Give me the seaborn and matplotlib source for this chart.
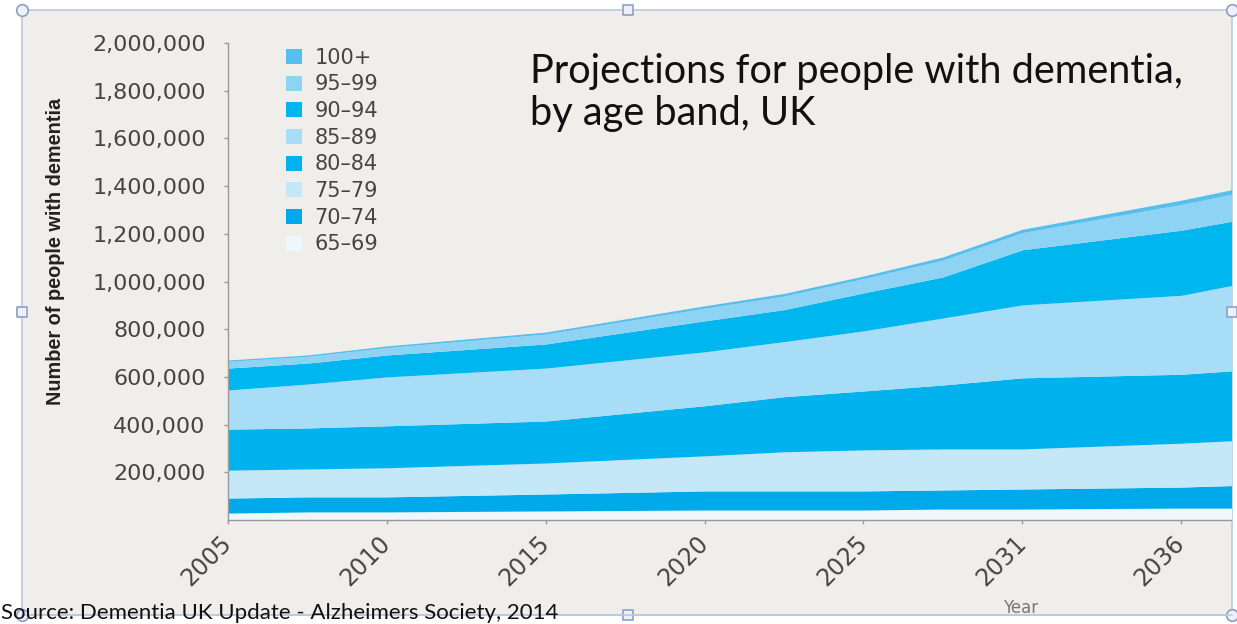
import matplotlib
matplotlib.use('Agg')
import matplotlib.pyplot as plt
import seaborn as sns
from matplotlib.patches import Rectangle
from matplotlib.ticker import FuncFormatter

# x position of each reading (one unit per step of the original axis, labels every 5)
period = [0, 2.5, 5, 10, 15, 17.5, 20, 22.5, 25, 30, 32]
tick_pos = [0, 5, 10, 15, 20, 25, 30]
tick_years = ['2005', '2010', '2015', '2020', '2025', '2031', '2036']

age_bands = ['65–69', '70–74', '75–79', '80–84', '85–89', '90–94', '95–99', '100+']
age_65_69 = [29000, 34000, 34000, 38000, 42000, 42000, 42000, 46000, 46000, 50000, 50000]
age_70_74 = [63000, 63000, 63000, 71000, 80000, 80000, 80000, 80000, 84000, 88000, 96000]
age_75_79 = [117000, 117000, 122000, 130000, 147000, 164000, 172000, 172000, 168000, 184000, 189000]
age_80_84 = [172000, 172000, 176000, 176000, 210000, 231000, 247000, 268000, 298000, 289000, 294000]
age_85_89 = [164000, 184000, 205000, 222000, 226000, 231000, 252000, 281000, 306000, 331000, 365000]
age_90_94 = [92000, 88000, 92000, 101000, 130000, 134000, 159000, 172000, 231000, 273000, 268000]
age_95_99 = [28000, 28000, 31000, 42000, 53000, 57000, 60000, 71000, 72000, 108000, 115000]
age_100_plus = [6000, 6000, 7000, 8000, 10000, 11000, 11000, 13000, 14000, 18000, 19000]

band_colors = ['#eef7fc', '#00aaea', '#c4e8f8', '#00b2ed', '#a8ddf7', '#00b6ef', '#8fd3f4', '#55bfee']

sns.set_theme(style='white')
plt.rcParams['font.family'] = ['DejaVu Sans']

W, H = 1237, 624
fig = plt.figure(figsize=(W / 100, H / 100), dpi=100, facecolor='white')

# grey panel with the selection frame round it
bg = fig.add_axes([0, 0, 1, 1], zorder=0)
bg.set_xlim(0, W)
bg.set_ylim(H, 0)
bg.axis('off')
bg.add_patch(Rectangle((22, 10), 1210, 605, facecolor='#f0eeeb', edgecolor='#b9c9e0', lw=1.2))

ax = fig.add_axes([228 / W, 1 - 520 / H, (1231 - 228) / W, (520 - 43) / H], zorder=1)
ax.set_facecolor('#f0eeeb')

ax.stackplot(period, age_65_69, age_70_74, age_75_79, age_80_84, age_85_89,
             age_90_94, age_95_99, age_100_plus,
             colors=band_colors, labels=age_bands, linewidth=0)

ax.set_xlim(0, 31.57)
ax.set_ylim(0, 2000000)
ax.set_yticks(range(200000, 2000001, 200000))
ax.yaxis.set_major_formatter(FuncFormatter(lambda v, p: f'{int(v):,}'))
ax.set_xticks(tick_pos)
ax.set_xticklabels(tick_years, rotation=45, ha='right', va='center', rotation_mode='anchor')

sns.despine(ax=ax)
for s in ['left', 'bottom']:
    ax.spines[s].set_color('#9a9a9a')
    ax.spines[s].set_linewidth(1)
ax.tick_params(axis='y', which='major', left=True, length=3, width=1, color='#9a9a9a',
               pad=13, labelsize=16, labelcolor='#454545')
ax.tick_params(axis='x', which='major', bottom=True, length=3, width=1, color='#9a9a9a',
               pad=11, labelsize=17, labelcolor='#454545')

ax.set_ylabel('Number of people with dementia', fontsize=14.3, fontweight='bold',
              family=['Liberation Sans', 'DejaVu Sans'], color='#222222')
ax.yaxis.set_label_coords(-0.163, 0.562)
ax.set_xlabel('Year', fontsize=12, color='#777777')
ax.xaxis.set_label_coords(0.79, -0.165)

h, l = ax.get_legend_handles_labels()
ax.legend(h[::-1], l[::-1], loc='upper left', bbox_to_anchor=(0.058, 0.99),
          frameon=False, fontsize=15, handlelength=0.75, handleheight=0.75,
          handletextpad=0.6, labelspacing=0.32, borderpad=0, borderaxespad=0,
          labelcolor='#454545')

fig.text(530 / W, 1 - 53 / H, 'Projections for people with dementia,\nby age band, UK',
         ha='left', va='top', fontsize=28.6, family=['Lato', 'DejaVu Sans'], color='#111111',
         linespacing=1.15)

# white strip under the frame, selection handles and the source line
top = fig.add_axes([0, 0, 1, 1], zorder=5)
top.set_xlim(0, W)
top.set_ylim(H, 0)
top.axis('off')
top.patch.set_alpha(0)
top.add_patch(Rectangle((0, 615.5), W, 20, facecolor='white', edgecolor='none'))
top.plot([22, 1232], [615, 615], color='#b9c9e0', lw=1.2)
top.scatter([22, 1232, 22, 1232], [10, 10, 615, 615], s=70, marker='o',
            facecolor='#eef1f8', edgecolor='#8d9dc6', lw=1.2, clip_on=False)
top.scatter([628, 22, 1232, 628], [10, 312, 312, 615], s=55, marker='s',
            facecolor='#eef1f8', edgecolor='#8d9dc6', lw=1.2, clip_on=False)
fig.text(1 / W, 1 - 623 / H, 'Source: Dementia UK Update - Alzheimers Society, 2014',
         ha='left', va='bottom', fontsize=16, family=['Lato', 'DejaVu Sans'], color='#111111',
         zorder=10)

fig.savefig('out.png', dpi=100, facecolor='white')
